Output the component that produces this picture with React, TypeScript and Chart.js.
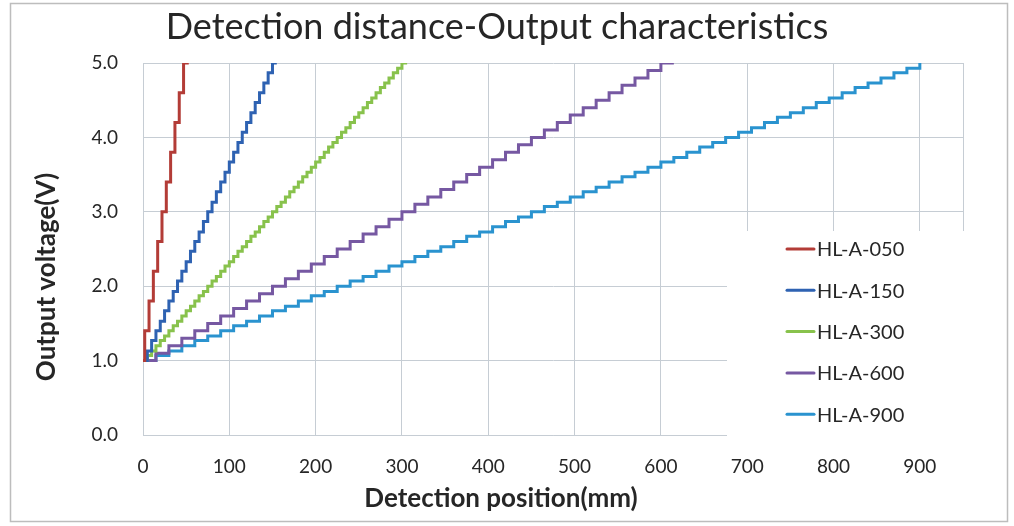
import React, { useEffect, useRef } from "react";
import { Chart, registerables } from "chart.js";

Chart.register(...registerables);

const FONT = "Lato, 'Open Sans', sans-serif";

const chartTitle = "Detection distance-Output characteristics";
const xAxisTitle = "Detection position(mm)";
const yAxisTitle = "Output voltage(V)";

const seriesNames = ["HL-A-050", "HL-A-150", "HL-A-300", "HL-A-600", "HL-A-900"];
const seriesColors = ["#b33c37", "#2e62b2", "#88c24c", "#7658a2", "#2a93cf"];

const xTickValues = [0, 100, 200, 300, 400, 500, 600, 700, 800, 900];
const xMax = 950;
const yTickValues = [0, 1, 2, 3, 4, 5];

// HL-A-050
const hl050X = [0, 2, 7, 12, 17, 22, 27, 32, 37, 42, 47, 53];
const hl050V = [1.0, 1.4, 1.8, 2.2, 2.6, 3.0, 3.4, 3.8, 4.2, 4.6, 5.0, 5.0];

// HL-A-150
const hl150X = [
  0, 5, 10, 15, 20, 25, 30, 35, 40, 45, 50, 55, 60, 65, 70, 75, 80, 85, 90, 95,
  100, 105, 110, 115, 120, 125, 130, 135, 140, 145, 150, 155,
];
const hl150V = [
  1.0, 1.13, 1.27, 1.4, 1.53, 1.67, 1.8, 1.93, 2.07, 2.2, 2.33, 2.47, 2.6, 2.73,
  2.87, 3.0, 3.13, 3.27, 3.4, 3.53, 3.67, 3.8, 3.93, 4.07, 4.2, 4.33, 4.47, 4.6,
  4.73, 4.87, 5.0, 5.0,
];

// HL-A-300
const hl300X = [
  0, 5, 10, 15, 20, 25, 30, 35, 40, 45, 50, 55, 60, 65, 70, 75, 80, 85, 90, 95,
  100, 105, 110, 115, 120, 125, 130, 135, 140, 145, 150, 155, 160, 165, 170, 175,
  180, 185, 190, 195, 200, 205, 210, 215, 220, 225, 230, 235, 240, 245, 250, 255,
  260, 265, 270, 275, 280, 285, 290, 295, 300, 306,
];
const hl300V = [
  1.0, 1.07, 1.13, 1.2, 1.27, 1.33, 1.4, 1.47, 1.53, 1.6, 1.67, 1.73, 1.8, 1.87,
  1.93, 2.0, 2.07, 2.13, 2.2, 2.27, 2.33, 2.4, 2.47, 2.53, 2.6, 2.67, 2.73, 2.8,
  2.87, 2.93, 3.0, 3.07, 3.13, 3.2, 3.27, 3.33, 3.4, 3.47, 3.53, 3.6, 3.67, 3.73,
  3.8, 3.87, 3.93, 4.0, 4.07, 4.13, 4.2, 4.27, 4.33, 4.4, 4.47, 4.53, 4.6, 4.67,
  4.73, 4.8, 4.87, 4.93, 5.0, 5.0,
];

// HL-A-600
const hl600X = [
  0, 15, 30, 45, 60, 75, 90, 105, 120, 135, 150, 165, 180, 195, 210, 225, 240,
  255, 270, 285, 300, 315, 330, 345, 360, 375, 390, 405, 420, 435, 450, 465, 480,
  495, 510, 525, 540, 555, 570, 585, 600, 615,
];
const hl600V = [
  1.0, 1.1, 1.2, 1.3, 1.4, 1.5, 1.6, 1.7, 1.8, 1.9, 2.0, 2.1, 2.2, 2.3, 2.4, 2.5,
  2.6, 2.7, 2.8, 2.9, 3.0, 3.1, 3.2, 3.3, 3.4, 3.5, 3.6, 3.7, 3.8, 3.9, 4.0, 4.1,
  4.2, 4.3, 4.4, 4.5, 4.6, 4.7, 4.8, 4.9, 5.0, 5.0,
];

// HL-A-900
const hl900X = [
  0, 15, 30, 45, 60, 75, 90, 105, 120, 135, 150, 165, 180, 195, 210, 225, 240,
  255, 270, 285, 300, 315, 330, 345, 360, 375, 390, 405, 420, 435, 450, 465, 480,
  495, 510, 525, 540, 555, 570, 585, 600, 615, 630, 645, 660, 675, 690, 705, 720,
  735, 750, 765, 780, 795, 810, 825, 840, 855, 870, 885, 900,
];
const hl900V = [
  1.0, 1.07, 1.13, 1.2, 1.27, 1.33, 1.4, 1.47, 1.53, 1.6, 1.67, 1.73, 1.8, 1.87,
  1.93, 2.0, 2.07, 2.13, 2.2, 2.27, 2.33, 2.4, 2.47, 2.53, 2.6, 2.67, 2.73, 2.8,
  2.87, 2.93, 3.0, 3.07, 3.13, 3.2, 3.27, 3.33, 3.4, 3.47, 3.53, 3.6, 3.67, 3.73,
  3.8, 3.87, 3.93, 4.0, 4.07, 4.13, 4.2, 4.27, 4.33, 4.4, 4.47, 4.53, 4.6, 4.67,
  4.73, 4.8, 4.87, 4.93, 5.0,
];

const seriesX = [hl050X, hl150X, hl300X, hl600X, hl900X];
const seriesV = [hl050V, hl150V, hl300V, hl600V, hl900V];

const GRID = "#c6cdd4";
const TEXT = "#262626";

const decorPlugin = {
  id: "decor",
  afterDraw(chart: any) {
    const { ctx } = chart;
    ctx.save();
    // outer frame
    ctx.strokeStyle = "#bdbdbd";
    ctx.lineWidth = 1.5;
    ctx.strokeRect(10.5, 3.5, 997, 518);

    // chart title
    ctx.fillStyle = TEXT;
    ctx.textAlign = "center";
    ctx.textBaseline = "alphabetic";
    ctx.font = `normal 36px ${FONT}`;
    ctx.fillText(chartTitle, 497, 39);

    // x axis title
    ctx.font = `bold 26px ${FONT}`;
    ctx.fillText(xAxisTitle, 501, 507);

    // y axis title
    ctx.save();
    ctx.translate(55, 277);
    ctx.rotate(-Math.PI / 2);
    ctx.fillText(yAxisTitle, 0, 0);
    ctx.restore();

    // legend box
    ctx.fillStyle = "#ffffff";
    ctx.fillRect(727, 231, 253, 214);
    ctx.font = `normal 20px ${FONT}`;
    ctx.textAlign = "left";
    ctx.textBaseline = "middle";
    seriesNames.forEach((name, i) => {
      const yy = 249 + i * 41.3;
      ctx.strokeStyle = seriesColors[i];
      ctx.lineWidth = 3;
      ctx.lineCap = "round";
      ctx.beginPath();
      ctx.moveTo(787, yy);
      ctx.lineTo(814, yy);
      ctx.stroke();
      ctx.fillStyle = TEXT;
      ctx.fillText(name, 817, yy + 1);
    });
    ctx.restore();
  },
};

export default function App() {
  const ref = useRef<HTMLCanvasElement>(null);
  useEffect(() => {
    const canvas = ref.current;
    if (!canvas) return;
    const datasets = seriesNames.map((name, i) => ({
      label: name,
      data: seriesX[i].map((x, j) => ({ x, y: seriesV[i][j] })),
      borderColor: seriesColors[i],
      backgroundColor: seriesColors[i],
      borderWidth: 3,
      pointRadius: 0,
      stepped: "before" as const,
      fill: false,
    }));
    const chart = new Chart(canvas, {
      type: "line",
      data: { datasets },
      plugins: [decorPlugin],
      options: {
        animation: false,
        responsive: true,
        maintainAspectRatio: false,
        layout: { padding: { left: 0, right: 51, top: 63, bottom: 0 } },
        plugins: {
          legend: { display: false },
          title: { display: false },
          tooltip: { enabled: false },
        },
        scales: {
          x: {
            type: "linear",
            min: 0,
            max: xMax,
            afterBuildTicks: (scale: any) => {
              scale.ticks = [...xTickValues, xMax].map((v) => ({ value: v }));
            },
            afterFit: (scale: any) => {
              scale.height = 91;
            },
            ticks: {
              autoSkip: false,
              maxRotation: 0,
              padding: 20,
              color: TEXT,
              font: { family: FONT, size: 19 },
              callback: (v: any) => (xTickValues.includes(Number(v)) ? String(v) : ""),
            },
            grid: { color: GRID, lineWidth: 1, drawTicks: false },
            border: { color: GRID },
          },
          y: {
            type: "linear",
            min: 0,
            max: 5,
            afterBuildTicks: (scale: any) => {
              scale.ticks = yTickValues.map((v) => ({ value: v }));
            },
            afterFit: (scale: any) => {
              scale.width = 143;
            },
            ticks: {
              padding: 25,
              color: TEXT,
              font: { family: FONT, size: 19 },
              callback: (v: any) => Number(v).toFixed(1),
            },
            grid: { color: GRID, lineWidth: 1, drawTicks: false },
            border: { color: GRID },
          },
        },
      },
    });
    return () => chart.destroy();
  }, []);
  return (
    <div
      style={{
        position: "fixed",
        left: 0,
        top: 0,
        width: 1014,
        height: 526,
        background: "#ffffff",
      }}
    >
      <canvas ref={ref} />
    </div>
  );
}
